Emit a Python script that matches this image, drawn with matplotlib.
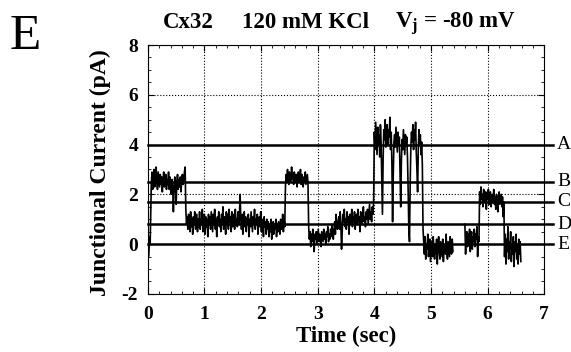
import numpy as np
import matplotlib
matplotlib.use("Agg")
from matplotlib import pyplot as plt
from matplotlib.ticker import MultipleLocator

plt.rcParams['font.family'] = ['Liberation Serif', 'DejaVu Serif']
plt.rcParams['font.weight'] = 'bold'
plt.rcParams['axes.unicode_minus'] = False
plt.rcParams['mathtext.fontset'] = 'custom'
plt.rcParams['mathtext.rm'] = 'Liberation Serif'
plt.rcParams['mathtext.bf'] = 'Liberation Serif:bold'

# current levels (pA) drawn as horizontal reference lines
level_names = ["A", "B", "C", "D", "E"]
level_values = [4.0, 2.5, 1.7, 0.8, 0.0]

# trace, one list per stretch: (start s, end s, values pA)
seg1 = [0.1, -0.5, -0.2, 0.3, 0.0, 1.2]
seg2 = [2.4, 2.9, 2.2, 2.7, 3.0, 2.3, 2.8, 3.1, 2.5, 2.2, 2.9, 2.6, 2.3, 2.8, 2.4, 2.7, 2.1, 2.6,
        2.9, 2.3, 2.5, 2.8, 2.2, 2.6, 2.4, 2.9, 2.2, 2.7, 2.5, 2.0, 2.6, 2.3, 1.3, 2.2, 2.7, 2.4,
        1.6, 2.5, 2.8, 2.2, 2.6, 2.3, 2.7, 2.1, 2.5, 2.8, 2.4, 2.6, 2.9, 3.1]
seg3 = [1.4, 0.8, 1.1, 0.6, 1.2, 0.9, 0.5, 1.3, 0.7, 1.0,
        0.4, 1.1, 0.8, 1.3, 0.6, 0.9, 1.2, 0.5, 1.0, 0.7,
        1.3, 0.6, 1.0, 0.8, 1.4, 0.5, 0.9, 1.2, 0.4, 1.1,
        0.7, 1.0, 0.3, 1.2, 0.8, 1.1, 0.6, 1.3, 0.9, 0.5,
        1.2, 0.8, 1.4, 0.6, 1.0, 0.3, 1.1, 0.9, 1.3, 0.7,
        1.0, 0.5, 1.2, 0.8, 1.5, 0.6, 1.1, 0.9, 0.4, 1.3,
        0.8, 1.2, 0.6, 1.4, 0.9, 1.1, 0.5, 1.3, 0.7, 1.0,
        1.2, 0.6, 1.4, 0.9, 1.0, 0.7, 1.3, 0.8, 1.1, 2.0,
        1.0, 0.6, 1.2, 0.4, 0.9, 1.3, 0.7, 1.1, 0.5, 1.0,
        0.8, 1.2, 0.3, 1.0, 0.7, 1.3, 0.9, 0.5, 1.1, 0.8,
        1.4, 0.6, 1.0, 0.8, 1.2, 0.4, 0.9, 1.1, 0.7, 1.3,
        0.5, 1.0, 0.8, 0.3, 1.1, 0.7, 0.9, 0.4, 1.0, 0.6,
        0.9, 0.3, 0.8, 0.5, 1.0, 0.2, 0.7, 0.9, 0.4, 0.8,
        0.6, 1.0, 0.3, 0.8, 0.5, 0.9, 0.7, 0.4, 1.0, 0.6,
        0.8, 1.2, 0.5, 1.0, 0.7]
seg4 = [2.3, 2.8, 2.5, 3.0, 2.6, 2.4, 2.9, 2.7, 2.5, 3.1, 2.6, 2.8, 2.4, 2.9, 2.6, 2.5, 2.8,
        2.3, 2.7, 2.9, 2.5, 2.6, 3.0, 2.4, 2.8, 2.6, 2.3, 2.7, 2.5, 2.9, 2.4, 2.6, 2.8, 2.5]
seg5 = [0.7, 0.2, 0.5, -0.1, 0.4, 0.1, 0.6, 0.3, -0.3, 0.4, 0.2, 0.5, 0.0, 0.3, 0.6, 0.1, 0.4,
        0.2, -0.1, 0.5, 0.3, 0.1, 0.6, 0.2, 0.4, 0.0, 0.5, 0.3, 0.7, 0.1, 0.4, 0.2, 0.6, 0.3,
        0.8, 0.4, 0.2, 0.6]
seg6 = [0.9, 0.4, 1.2, 0.7, 0.6, 0.9, 1.1, 0.6, 1.3, 0.8, -0.2, 0.5, 1.2, 0.9, 1.4, 0.7, 1.0,
        0.6, 1.3, 0.9, 1.1, 0.4, 1.2, 0.8, 1.0, 1.4, 0.7, 1.1, 0.9, 1.3, 0.6, 1.0, 1.2, 0.8,
        1.4, 0.9, 1.1, 0.5, 1.3, 1.0, 0.8, 1.2, 1.5, 0.9, 1.1, 0.7, 1.3, 1.0, 1.4, 0.8, 1.2,
        1.6, 1.0, 1.3, 0.9, 1.5, 1.2, 1.8]
seg7 = [4.5, 3.8, 4.9, 4.2, 3.6, 4.7, 4.0, 4.4, 3.5, 4.8,
        4.1, 2.6, 1.2, 3.4, 4.6, 4.2, 5.0, 3.9, 4.4, 4.8,
        4.0, 4.6, 4.3, 5.1, 3.8, 4.5, 3.2, 0.9, 2.8, 4.1,
        4.4, 3.9, 4.7, 4.2, 3.7, 4.5, 4.0, 4.3, 2.9, 1.5,
        3.3, 4.2, 3.8, 4.6, 4.1, 3.6, 4.4, 4.0, 4.3, 3.5,
        2.2, 0.6, 0.1, 2.4, 3.9, 4.5, 4.1, 4.8, 3.8, 4.6,
        4.2, 4.9, 3.7, 3.0, 2.1, 3.8, 4.6, 4.0, 4.4, 3.6,
        4.1, 3.2]
seg8 = [0.6, 0.1, -0.4, 0.3, -0.6, 0.0, -0.2, 0.4, -0.5, -0.1, 0.2, -0.7, -0.3, 0.1, -0.5,
        0.3, -0.2, -0.6, 0.0, -0.4, 0.2, -0.8, -0.1, 0.3, -0.3, -0.6, 0.1, -0.2, -0.5, 0.2,
        -0.7, -0.1, 0.0, -0.4, 0.4, -0.3, -0.6, 0.1, -0.2, -0.5, 0.3, -0.1, -0.4, 0.2, -0.3]
gap = [np.nan]
seg9 = [0.8, -0.4, 0.3, 0.5, -0.1, 0.4, 0.0, 0.6, -0.3, 0.2, 0.5, -0.2, 0.3, 0.1, 0.6, -0.1,
        0.4, 0.2, 0.7, -0.5, 0.3, 0.1]
seg10 = [2.1, 1.6, 2.3, 1.8, 2.0, 1.5, 2.2, 1.9, 1.7, 2.1, 1.4, 2.0, 1.8, 2.2, 1.6, 1.9, 2.1,
         1.5, 1.8, 2.0, 1.7, 2.2, 1.6, 1.9, 1.4, 2.0, 1.8, 1.3, 1.9, 2.1, 1.6, 1.8, 2.0, 1.5,
         1.9, 1.1, 1.7]
seg11 = [-0.5, 0.4, -0.8, 0.2, -0.3, 0.7, -0.6, 0.1, -0.2, 0.5, -0.7, 0.0, -0.4, 0.3, -0.9,
         0.1, -0.3, 0.4, -0.6, 0.0, -0.8, 0.2, -0.4, 0.1, -0.7]

segments = [(0.00, 0.06, seg1), (0.06, 0.67, seg2), (0.67, 2.43, seg3), (2.43, 2.84, seg4),
            (2.84, 3.30, seg5), (3.30, 4.00, seg6), (4.00, 4.86, seg7), (4.86, 5.40, seg8),
            (5.40, 5.60, gap), (5.60, 5.86, seg9), (5.86, 6.30, seg10), (6.30, 6.60, seg11)]

t_all = []
i_all = []
for t0, t1, vals in segments:
    t_all.extend(np.linspace(t0, t1, len(vals), endpoint=False))
    i_all.extend(vals)

fig = plt.figure(figsize=(5.71, 3.52), dpi=100)
ax = fig.add_axes([0.259, 0.165, 0.694, 0.707])

ax.plot(t_all, i_all, color="black", linewidth=1.2)

for name, val in zip(level_names, level_values):
    ax.plot([0, 7.16], [val, val], color="black", linewidth=1.8, clip_on=False)
    ax.text(7.23, val, name, fontsize=14, fontweight="normal", va="center", ha="left")

ax.set_xlim(0, 7)
ax.set_ylim(-2, 8)
ax.xaxis.set_major_locator(MultipleLocator(1))
ax.xaxis.set_minor_locator(MultipleLocator(0.2))
ax.yaxis.set_major_locator(MultipleLocator(2))
ax.yaxis.set_minor_locator(MultipleLocator(0.5))
ax.tick_params(which="both", direction="in", top=True, right=True, labelsize=14)
ax.tick_params(which="major", length=4, width=0.8)
ax.tick_params(which="minor", length=2.5, width=0.6)
ax.tick_params(axis="x", pad=9)
ax.tick_params(axis="y", pad=7)
ax.grid(True, which="major", linestyle=":", linewidth=0.8, color="black")
for lab in ax.get_xticklabels() + ax.get_yticklabels():
    lab.set_fontweight("bold")

fig.text(0.606, 0.028, "Time (sec)", fontsize=16.5, fontweight="bold", ha="center", va="baseline")
fig.text(0.175, 0.51, "Junctional Current (pA)", fontsize=17, fontweight="bold",
         rotation=90, ha="center", va="center")

fig.text(163 / 571, 0.920, "Cx32", fontsize=16.5, fontweight="bold", ha="left", va="baseline")
fig.text(242 / 571, 0.920, "120 mM KCl", fontsize=16.5, fontweight="bold", ha="left", va="baseline")
fig.text(395 / 571, 0.920, "V$_\\mathbf{j}$ = -80 mV", fontsize=16.5, fontweight="bold",
         ha="left", va="baseline")
fig.text(0.016, 0.861, "E", fontsize=37, fontweight="normal", ha="left", va="baseline")

fig.savefig("out.png", dpi=100)
